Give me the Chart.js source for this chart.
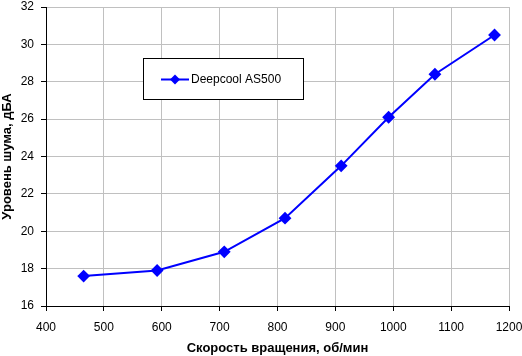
<!DOCTYPE html>
<html>
<head>
<meta charset="utf-8">
<script src="https://cdn.jsdelivr.net/npm/chart.js@4"></script>
<style>
  html, body { margin: 0; padding: 0; background: #fff; }
  #wrap { width: 522px; height: 356px; }
</style>
</head>
<body>
<div id="wrap"><canvas id="noiseChart" width="522" height="356"></canvas></div>
<script>
// fan speed (rpm) vs noise (dBA)
const speedRpm = [465, 592, 708, 813, 910, 992, 1072, 1175];
const noiseDba = [17.6, 17.9, 18.9, 20.7, 23.5, 26.1, 28.4, 30.5];
const seriesName = 'Deepcool AS500';
const xTitle = 'Скорость вращения, об/мин';
const yTitle = 'Уровень шума, дБА';

const BLUE = '#0000ff';
const FONT = 'Arial, "Liberation Sans", sans-serif';

// legend box inside the plot, like the old Excel chart
const boxLegend = {
    id: 'boxLegend',
    afterDraw(chart) {
        const ctx = chart.ctx;
        const x = 143.5, y = 58.5, w = 160, h = 41;
        ctx.save();
        ctx.fillStyle = '#fff';
        ctx.fillRect(x, y, w, h);
        ctx.strokeStyle = '#000';
        ctx.lineWidth = 1;
        ctx.strokeRect(x, y, w, h);

        const ly = 79.5;
        ctx.strokeStyle = BLUE;
        ctx.lineWidth = 2;
        ctx.beginPath();
        ctx.moveTo(161, ly);
        ctx.lineTo(189, ly);
        ctx.stroke();
        ctx.fillStyle = BLUE;
        ctx.beginPath();
        ctx.moveTo(175, ly - 5);
        ctx.lineTo(180, ly);
        ctx.lineTo(175, ly + 5);
        ctx.lineTo(170, ly);
        ctx.closePath();
        ctx.fill();

        ctx.fillStyle = '#000';
        ctx.font = '12px ' + FONT;
        ctx.textBaseline = 'middle';
        ctx.fillText(seriesName, 191, ly);
        ctx.restore();
    }
};

// keep the plot area where the reference has it
function fixX(s) {
    s.height = 50;
    s.paddingLeft = 0;
    s.paddingRight = 0;
}
function fixY(s) {
    s.width = 46;
    s.paddingTop = 0;
    s.paddingBottom = 0;
}

new Chart(document.getElementById('noiseChart'), {
    type: 'line',
    data: {
        datasets: [{
            label: seriesName,
            data: speedRpm.map((s, i) => ({ x: s, y: noiseDba[i] })),
            borderColor: BLUE,
            backgroundColor: BLUE,
            borderWidth: 2,
            tension: 0,
            pointStyle: 'rectRot',
            pointRadius: 5,
            pointHoverRadius: 5
        }]
    },
    options: {
        responsive: false,
        animation: false,
        layout: { padding: { top: 6, right: 13, left: 0, bottom: 0 } },
        plugins: {
            legend: { display: false },
            tooltip: { enabled: false }
        },
        scales: {
            x: {
                type: 'linear',
                min: 400,
                max: 1200,
                afterFit: fixX,
                grid: { color: '#c0c0c0', tickColor: '#000', tickLength: 5 },
                border: { color: '#000', width: 1 },
                ticks: {
                    stepSize: 100,
                    color: '#000',
                    padding: 9,
                    maxRotation: 0,
                    callback: v => String(v),
                    font: { family: FONT, size: 12 }
                },
                title: {
                    display: true,
                    text: xTitle,
                    color: '#000',
                    padding: 0,
                    font: { family: FONT, size: 13, weight: 'bold' }
                }
            },
            y: {
                min: 16,
                max: 32,
                afterFit: fixY,
                grid: { color: '#c0c0c0', tickColor: '#000', tickLength: 5 },
                border: { color: '#000', width: 1 },
                ticks: {
                    stepSize: 2,
                    color: '#000',
                    padding: 7,
                    font: { family: FONT, size: 12 }
                },
                title: {
                    display: true,
                    text: yTitle,
                    color: '#000',
                    padding: 0,
                    font: { family: FONT, size: 13, weight: 'bold' }
                }
            }
        }
    },
    plugins: [boxLegend]
});
</script>
</body>
</html>
